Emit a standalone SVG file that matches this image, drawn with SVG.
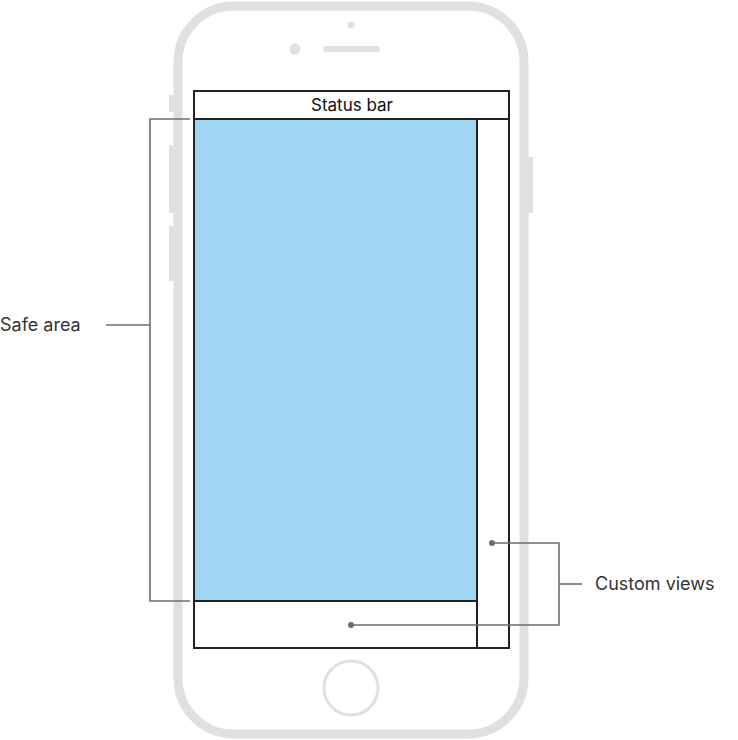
<svg xmlns="http://www.w3.org/2000/svg" width="738" height="740" viewBox="0 0 738 740">
<style>
.ph{fill:none;stroke:#e0e0e0;stroke-width:9}
.btn{fill:#e0e0e0}
.scr{fill:none;stroke:#222;stroke-width:2}
.ld{fill:none;stroke:#6d6e72;stroke-width:1.6}
.dot{fill:#6d6e72}
.lbl{font-family:"Inter","Liberation Sans",sans-serif;font-size:18px;fill:#333}
</style>
<rect width="738" height="740" fill="#fff"/>
<g id="phone">
<rect class="btn" x="169" y="95" width="6" height="17"/>
<rect class="btn" x="169" y="145" width="6" height="68"/>
<rect class="btn" x="169" y="226" width="6" height="55"/>
<rect class="btn" x="527" y="157" width="6" height="56"/>
<rect class="ph" x="178" y="6" width="346" height="728" rx="56"/>
<circle cx="351" cy="25" r="3.5" fill="#e0e0e0"/>
<circle cx="295" cy="49" r="5.5" fill="#e0e0e0"/>
<line x1="326" y1="49" x2="377" y2="49" stroke="#e0e0e0" stroke-width="6" stroke-linecap="round"/>
<circle cx="351" cy="688" r="27" fill="none" stroke="#e0e0e0" stroke-width="3"/>
</g>
<g id="safe-area">
<rect x="194" y="119" width="283" height="482" fill="#a0d6f2"/>
</g>
<g id="screen">
<rect class="scr" x="194" y="91" width="315" height="557"/>
<line class="scr" x1="194" y1="119" x2="509" y2="119"/>
<line class="scr" x1="477" y1="119" x2="477" y2="648"/>
<line class="scr" x1="194" y1="601" x2="477" y2="601"/>
<text class="lbl" x="352" y="111" text-anchor="middle" style="font-size:17px;fill:#111">Status bar</text>
</g>
<g id="connectors">
<polyline class="ld" points="190,119 150,119 150,601 190,601"/>
<line class="ld" x1="106" y1="325" x2="150" y2="325"/>
<circle class="dot" cx="492" cy="543" r="3"/>
<circle class="dot" cx="351" cy="625" r="3"/>
<polyline class="ld" points="492,543 559,543 559,625 351,625"/>
<line class="ld" x1="559" y1="584" x2="582" y2="584"/>
</g>
<g id="labels">
<text class="lbl" x="0" y="331">Safe area</text>
<text class="lbl" x="595" y="590">Custom views</text>
</g>
</svg>
